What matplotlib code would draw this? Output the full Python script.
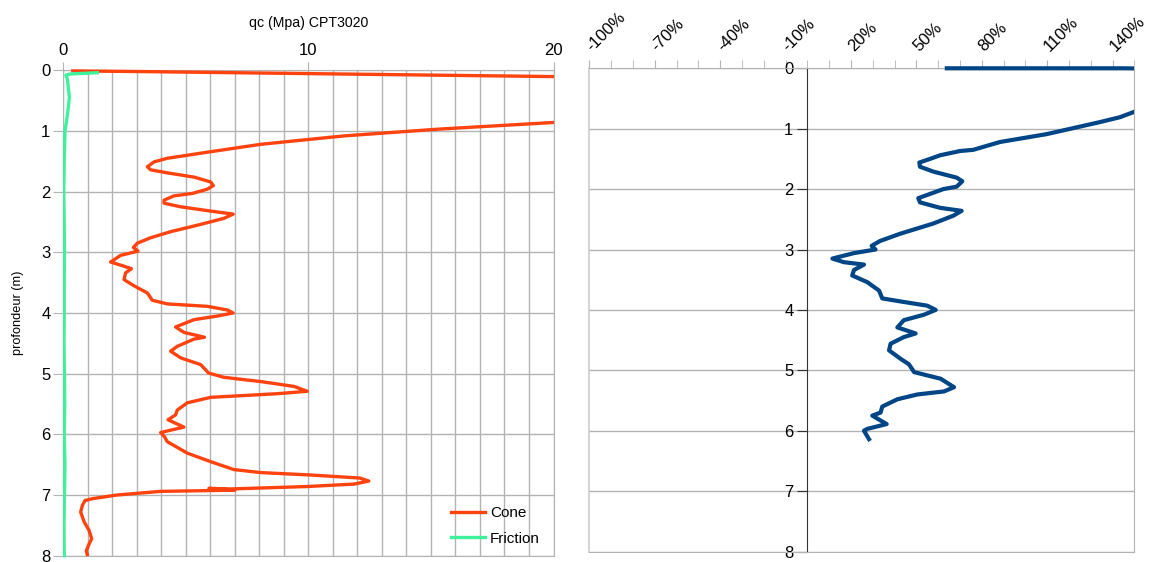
import numpy as np
import matplotlib
matplotlib.use("Agg")
import matplotlib.pyplot as plt
import matplotlib.transforms as mtransforms
from matplotlib.patches import Rectangle
from matplotlib.ticker import FixedLocator, MultipleLocator

plt.rcParams['font.family'] = ['Liberation Sans', 'DejaVu Sans']

# cone resistance qc (MPa) vs depth (m)
cone_depth = [0.01, 0.02, 0.3, 0.55, 0.72, 0.86, 0.97, 1.08, 1.12, 1.22, 1.35, 1.40, 1.45, 1.51,
              1.59, 1.64, 1.69, 1.76, 1.84, 1.90, 1.96, 2.03, 2.07, 2.14, 2.19, 2.25, 2.32, 2.37,
              2.44, 2.54, 2.66, 2.76, 2.85, 2.92, 2.98, 3.05, 3.16, 3.22, 3.27, 3.34, 3.45, 3.55,
              3.67, 3.79, 3.85, 3.89, 3.95, 4.00, 4.05, 4.11, 4.23, 4.32, 4.40, 4.43, 4.55, 4.63,
              4.74, 4.85, 4.99, 5.06, 5.13, 5.21, 5.29, 5.33, 5.39, 5.48, 5.60, 5.68, 5.76, 5.88,
              5.97, 6.04, 6.12, 6.31, 6.45, 6.58, 6.63, 6.67, 6.72, 6.77, 6.82, 6.86, 6.90, 6.89,
              6.92, 6.94, 7.00, 7.06, 7.09, 7.17, 7.28, 7.44, 7.58, 7.72, 7.81, 7.92, 7.98]
cone_qc = [0.4, 3.0, 60, 38, 26, 20, 15.3, 11.5, 10.5, 8.06, 5.88, 5.07, 4.25, 3.71,
           3.44, 3.57, 4.25, 5.34, 6.02, 6.13, 5.88, 5.27, 4.52, 4.12, 4.12, 4.80, 6.02, 6.94,
           6.56, 5.61, 4.39, 3.57, 3.03, 2.87, 3.06, 2.35, 1.94, 2.42, 2.79, 2.55, 2.49, 2.89,
           3.44, 3.64, 4.25, 5.88, 6.70, 6.94, 6.29, 5.34, 4.59, 4.93, 5.77, 5.34, 4.66, 4.39,
           4.80, 5.61, 5.94, 6.56, 8.06, 9.42, 9.96, 8.74, 6.02, 5.07, 4.66, 4.59, 4.28, 4.93,
           3.98, 4.14, 4.25, 5.07, 6.02, 6.96, 8.06, 10.1, 12.1, 12.47, 11.86, 9.96, 6.83, 5.95,
           7.0, 3.98, 2.2, 1.2, 0.9, 0.79, 0.72, 0.86, 1.06, 1.17, 1.06, 0.95, 0.99]

# sleeve friction (MPa) vs depth (m)
fric_depth = [0.04, 0.06, 0.08, 0.15, 0.3, 0.45, 0.6, 0.85, 1.0, 1.5, 2.0, 2.5, 3.0, 3.5,
              4.0, 4.5, 5.0, 5.5, 6.0, 6.5, 7.0, 7.5, 8.0]
fric_val = [1.4, 0.3, 0.12, 0.18, 0.22, 0.26, 0.22, 0.14, 0.08, 0.05, 0.03, 0.05, 0.06, 0.05,
            0.05, 0.04, 0.06, 0.07, 0.05, 0.08, 0.06, 0.04, 0.05]

# right panel (%) vs depth (m)
pct_depth = [0.0, 0.0, 0.012, 0.3, 0.72, 0.81, 0.89, 1.09, 1.22, 1.35, 1.37, 1.44, 1.50, 1.56,
             1.63, 1.71, 1.81, 1.87, 1.96, 2.00, 2.08, 2.15, 2.22, 2.31, 2.36, 2.44, 2.57, 2.74,
             2.86, 2.94, 3.00, 3.06, 3.15, 3.21, 3.25, 3.34, 3.43, 3.54, 3.68, 3.81, 3.86, 3.93,
             4.00, 4.08, 4.17, 4.29, 4.39, 4.45, 4.56, 4.67, 4.81, 4.90, 5.03, 5.14, 5.28, 5.35,
             5.40, 5.48, 5.60, 5.70, 5.75, 5.89, 5.97, 6.00, 6.14]
pct_val = [64, 145, 170, 200, 150, 143.4, 134.3, 109.8, 88.4, 76.1, 70.0, 60.9, 56.3, 51.4,
           51.7, 57.8, 68.5, 71.1, 68.5, 62.4, 56.3, 50.9, 51.7, 60.9, 70.8, 67.0, 57.8, 42.5,
           33.3, 29.5, 31.3, 21.4, 11.5, 16.8, 26.0, 21.4, 20.6, 27.5, 32.9, 34.4, 42.8, 55.0,
           58.9, 53.5, 44.3, 41.3, 49.7, 44.3, 38.2, 37.5, 42.8, 46.6, 49.0, 61.2, 67.3, 62.7,
           50.5, 41.3, 34.4, 33.6, 29.8, 36.4, 27.5, 26.0, 28.3]

depth_ticks = list(range(0, 9))
pct_labels = list(range(-100, 141, 30))

grid_c = '#b3b3b3'
fig = plt.figure(figsize=(11.57, 5.62), dpi=100)


def loose_clip(ax, line):
    # let the line show its full width along the top edge (depth 0)
    r = Rectangle((0, -0.01), 1, 1.03, transform=ax.transAxes, facecolor='none', edgecolor='none')
    line.set_clip_path(r)


# ---- left panel ----
ax = fig.add_axes([63 / 1157, 1 - 555.7 / 562, 490.5 / 1157, 485.4 / 562])
l1, = ax.plot(cone_qc, cone_depth, color='#ff420e', lw=2.4, label='Cone', zorder=3)
l2, = ax.plot(fric_val, fric_depth, color='#3ef29c', lw=2.4, label='Friction', zorder=3)
loose_clip(ax, l1)
loose_clip(ax, l2)
ax.set_xlim(0, 20)
ax.set_ylim(8, 0)
ax.xaxis.tick_top()
ax.set_xticks([0, 10, 20])
ax.xaxis.set_minor_locator(MultipleLocator(1))
ax.set_yticks(depth_ticks)
ax.grid(True, which='both', axis='x', color=grid_c, lw=1)
ax.grid(True, which='major', axis='y', color=grid_c, lw=1)
ax.tick_params(axis='x', which='major', direction='out', length=6, color=grid_c, labelsize=12, pad=3)
ax.tick_params(axis='x', which='minor', length=0)
ax.tick_params(axis='y', direction='out', length=7, color=grid_c, labelsize=12, pad=2)
for s in ax.spines.values():
    s.set_color(grid_c)
ax.set_title('qc (Mpa) CPT3020', fontsize=10.2, pad=31)
ax.set_ylabel('profondeur (m)', fontsize=9.2, labelpad=12)
ax.legend(loc='lower right', frameon=False, fontsize=11, handlelength=2.2,
          handletextpad=0.35, labelspacing=0.75, bbox_to_anchor=(1.0, -0.008))

# ---- right panel ----
ax2 = fig.add_axes([589.3 / 1157, 1 - 551.5 / 562, 545 / 1157, 483.2 / 562])
l3, = ax2.plot(pct_val, pct_depth, color='#004586', lw=3.0, zorder=3)
loose_clip(ax2, l3)
ax2.set_xlim(-100, 150)
ax2.set_ylim(8, 0)
ax2.xaxis.tick_top()
ax2.xaxis.set_major_locator(FixedLocator(pct_labels))
ax2.xaxis.set_minor_locator(MultipleLocator(10))
ax2.set_xticklabels([f'{v}%' for v in pct_labels], rotation=45, ha='left', va='bottom',
                    rotation_mode='anchor')
ax2.set_yticks(depth_ticks)
ax2.grid(True, which='major', axis='y', color=grid_c, lw=1)
ax2.tick_params(axis='x', which='both', direction='out', length=6, color=grid_c, labelsize=12, pad=4)
ax2.tick_params(axis='y', direction='out', length=7, color='#333333', labelsize=12, pad=3)
shift = mtransforms.ScaledTranslation(5 / 100, 0, fig.dpi_scale_trans)
for lbl in ax2.get_xticklabels():
    lbl.set_transform(lbl.get_transform() + shift)
ax2.spines['left'].set_position(('data', 0))
ax2.spines['left'].set_color('#333333')
for k in ['top', 'right', 'bottom']:
    ax2.spines[k].set_color(grid_c)
ax2.axvline(-100, color='#cccccc', lw=1.2, clip_on=False)

fig.savefig('out.png', dpi=100)
